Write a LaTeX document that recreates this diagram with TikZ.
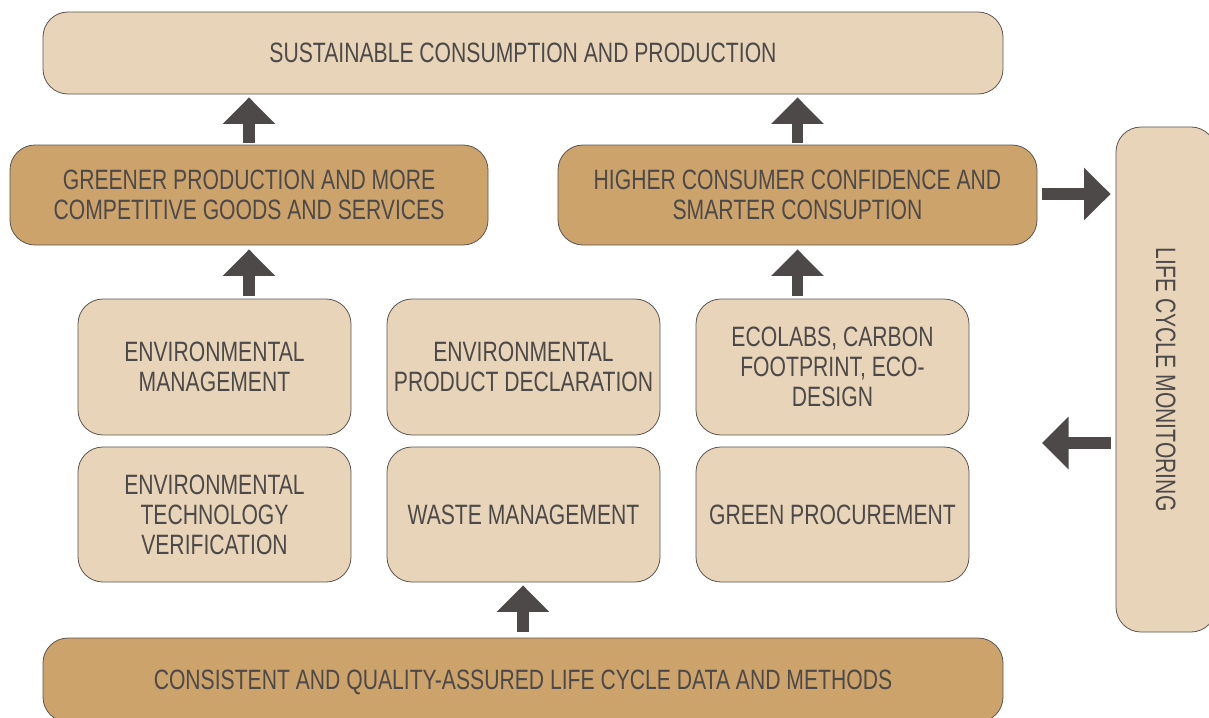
\documentclass[tikz,border=0pt]{standalone}
\usepackage{fontspec}
\setmainfont[FakeStretch=0.755]{Liberation Sans}
\usetikzlibrary{arrows.meta}
\definecolor{lightfill}{HTML}{E8D4B8}
\definecolor{darkfill}{HTML}{CDA36C}
\definecolor{edgegray}{HTML}{5A5552}
\definecolor{txtgray}{HTML}{4D4948}
\definecolor{arrowgray}{HTML}{4D4948}
\tikzset{
  box/.style={draw=edgegray, line width=0.6pt, rounded corners=18.75pt, align=center,
    text=txtgray, inner sep=0pt, text depth=0pt, font=\fontsize{21pt}{22.5pt}\selectfont},
  lightbox/.style={box, fill=lightfill},
  darkbox/.style={box, fill=darkfill},
  fat/.style={draw=arrowgray, line width=8.6pt, -{Triangle[width=38.25pt,length=19.9pt]}},
}
\begin{document}
\begin{tikzpicture}[x=0.75pt,y=-0.75pt]
\useasboundingbox (0,0) rectangle (1209,717);
\clip (0,0) rectangle (1209,717);
% top
\node[lightbox, minimum width=720pt, minimum height=61.5pt] (top) at (523,53) {SUSTAINABLE CONSUMPTION AND PRODUCTION};
% second row
\node[darkbox, minimum width=358.5pt, minimum height=75pt] (green) at (249,195) {GREENER PRODUCTION AND MORE\\COMPETITIVE GOODS AND SERVICES};
\node[darkbox, minimum width=359.25pt, minimum height=75pt] (higher) at (797.5,195) {HIGHER CONSUMER CONFIDENCE AND\\SMARTER CONSUPTION};
% grid
\node[lightbox, minimum width=204.75pt, minimum height=102pt] (em) at (214.5,367) {ENVIRONMENTAL\\MANAGEMENT};
\node[lightbox, minimum width=204.75pt, minimum height=102pt] (epd) at (523.5,367) {ENVIRONMENTAL\\PRODUCT DECLARATION};
\node[lightbox, minimum width=204.75pt, minimum height=102pt] (eco) at (832.5,367) {ECOLABS, CARBON\\FOOTPRINT, ECO-\\DESIGN};
\node[lightbox, minimum width=204.75pt, minimum height=101.25pt] (etv) at (214.5,514.5) {ENVIRONMENTAL\\TECHNOLOGY\\VERIFICATION};
\node[lightbox, minimum width=204.75pt, minimum height=101.25pt] (waste) at (523.5,514.5) {WASTE MANAGEMENT};
\node[lightbox, minimum width=204.75pt, minimum height=101.25pt] (gp) at (832.5,514.5) {GREEN PROCUREMENT};
% bottom
\node[darkbox, minimum width=720pt, minimum height=63pt] (bottom) at (523,680) {CONSISTENT AND QUALITY-ASSURED LIFE CYCLE DATA AND METHODS};
% life cycle monitoring
\node[lightbox, minimum width=75pt, minimum height=378.75pt] (lcm) at (1166,379.5) {};
\node[text=txtgray, rotate=-90, font=\fontsize{21pt}{22.5pt}\selectfont, inner sep=0pt, text depth=0pt] (lcmtext) at (lcm.center) {LIFE CYCLE MONITORING};
\coordinate (lt) at (1042,443);
% arrows
\draw[fat, shorten <=1.5pt, shorten >=2.25pt] (green.north) -- (green.north |- top.south);
\draw[fat, shorten <=1.5pt, shorten >=2.25pt] (higher.north) -- (higher.north |- top.south);
\draw[fat, shorten <=2.25pt, shorten >=3pt] (green.south |- em.north) -- (green.south);
\draw[fat, shorten <=2.25pt, shorten >=3pt] (higher.south |- eco.north) -- (higher.south);
\draw[fat, shorten <=4.5pt, shorten >=2.25pt] (bottom.north) -- (bottom.north |- waste.south);
\draw[fat, shorten <=3.75pt, shorten >=3.75pt] ([yshift=0.75pt]higher.east) -- ([yshift=0.75pt]higher.east -| lcm.west);
\draw[fat, shorten <=3.75pt] (lcm.west |- lt) -- (lt);
\end{tikzpicture}
\end{document}
